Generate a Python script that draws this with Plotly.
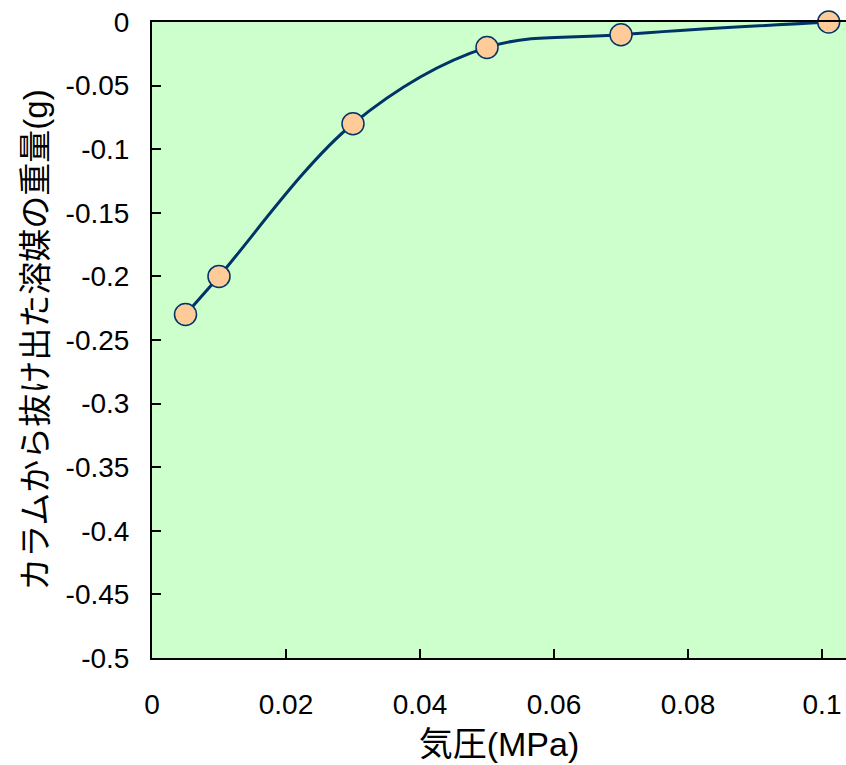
import plotly.graph_objects as go

pressure = [0.005, 0.01, 0.03, 0.05, 0.07, 0.101]
weight = [-0.23, -0.2, -0.08, -0.02, -0.01, 0.0]

x_ticks = [0, 0.02, 0.04, 0.06, 0.08, 0.1]
x_labels = ["0", "0.02", "0.04", "0.06", "0.08", "0.1"]
y_ticks = [0, -0.05, -0.1, -0.15, -0.2, -0.25, -0.3, -0.35, -0.4, -0.45, -0.5]
y_labels = ["0", "-0.05", "-0.1", "-0.15", "-0.2", "-0.25", "-0.3", "-0.35", "-0.4", "-0.45", "-0.5"]

fig = go.Figure()
fig.add_trace(go.Scatter(
    x=pressure, y=weight, mode="lines+markers",
    line=dict(color="#003366", width=3, shape="spline", smoothing=1),
    marker=dict(size=22, color="#FFCC99", line=dict(color="#003366", width=1.5)),
    cliponaxis=False, showlegend=False,
))

font = "Liberation Sans, Arial, Noto Sans CJK JP, sans-serif"
cjk = "Liberation Sans, Noto Sans CJK JP, sans-serif"
fig.update_layout(
    width=846, height=765,
    margin=dict(l=152, r=0, t=22, b=107),
    paper_bgcolor="white", plot_bgcolor="#CCFFCC",
    font=dict(family=font, color="black"),
    xaxis=dict(
        range=[0, 0.10358], tickvals=x_ticks, ticktext=x_labels,
        ticks="inside", ticklen=9, tickwidth=1.5, tickcolor="black",
        showline=True, linecolor="black", linewidth=2, mirror=True,
        showgrid=False, zeroline=False,
        tickfont=dict(size=28, family=font), ticklabelstandoff=20,
        ticklabeloverflow="allow",
        title=dict(text="気圧(MPa)", font=dict(size=34, family=cjk), standoff=14),
    ),
    yaxis=dict(
        range=[-0.5, 0], tickvals=y_ticks, ticktext=y_labels,
        ticks="inside", ticklen=9, tickwidth=1.5, tickcolor="black",
        showline=True, linecolor="black", linewidth=2,
        showgrid=False, zeroline=False,
        tickfont=dict(size=28, family=font), ticklabelstandoff=15,
        ticklabeloverflow="allow",
        title=dict(text="カラムから抜け出た溶媒の重量(g)", font=dict(size=33, family=cjk), standoff=8),
    ),
)

fig.write_html("out.html", config={"displayModeBar": False},
               post_script="document.body.style.margin='0';")
